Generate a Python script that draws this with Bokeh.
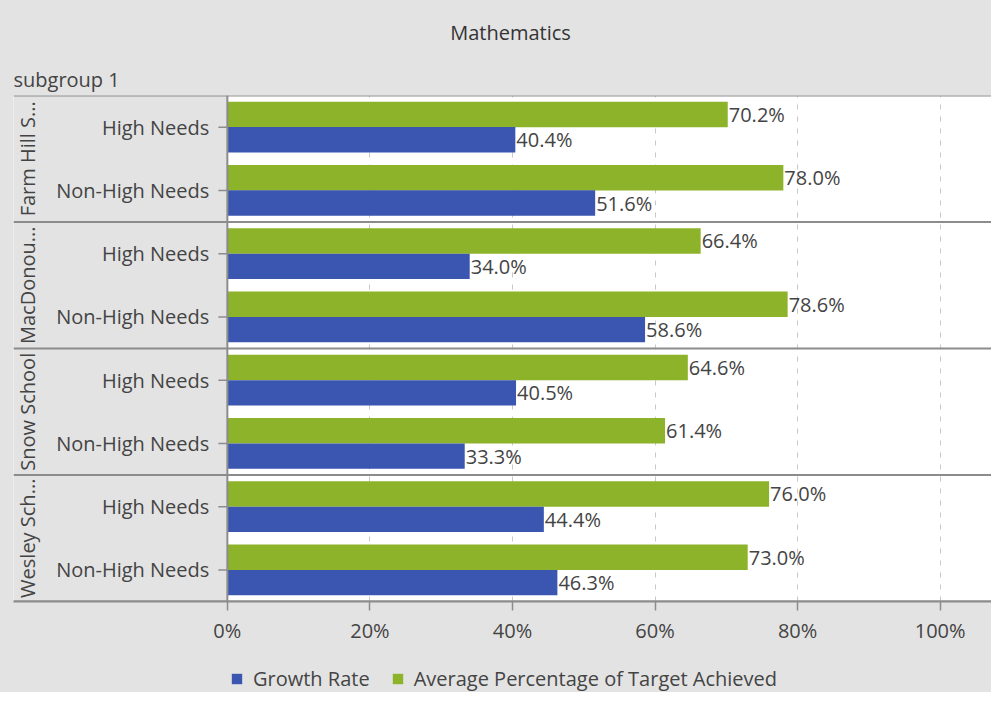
from bokeh.plotting import figure
from bokeh.layouts import column
from bokeh.models import (FactorRange, Range1d, Span, BoxAnnotation, Label, Legend, LegendItem,
                          FixedTicker, ColumnDataSource)
from bokeh.transform import dodge
from bokeh.core.properties import value
from bokeh.embed import file_html
from bokeh.resources import INLINE

# ---- data ----
title_text = "Mathematics"
facet_title = "subgroup 1"
schools = ["Farm Hill S...", "MacDonou...", "Snow School", "Wesley Sch..."]
subgroups = ["High Needs", "Non-High Needs"]
growth_rate = [40.4, 51.6, 34.0, 58.6, 40.5, 33.3, 44.4, 46.3]
avg_target = [70.2, 78.0, 66.4, 78.6, 64.6, 61.4, 76.0, 73.0]
series_names = ["Growth Rate", "Average Percentage of Target Achieved"]
x_ticks = [0, 20, 40, 60, 80, 100]
x_tick_labels = ["0%", "20%", "40%", "60%", "80%", "100%"]

# ---- style ----
FONT = "Open Sans"
GRAY_BG = "#e3e3e3"
BLUE = "#3a56b1"
GREEN = "#8db32a"
TEXT = "#444444"
LINE = "#8c8c8c"
X_MIN, X_MAX = -30.0, 107.2
W = 991


def strip(height):
    f = figure(width=W, height=height, output_backend="svg", toolbar_location=None,
               x_range=Range1d(0, 1), y_range=Range1d(0, 1), x_axis_location=None,
               y_axis_location=None, min_border=0)
    f.background_fill_color = GRAY_BG
    f.border_fill_color = GRAY_BG
    f.outline_line_color = None
    f.grid.grid_line_color = None
    return f


# ---- header: chart title and facet title ----
ph = strip(95)
ph.add_layout(Label(x=497, y=63, x_units="screen", y_units="screen", text=title_text,
                    text_align="center", text_baseline="middle", text_font=FONT,
                    text_font_size="20px", text_color="#333333"))
ph.add_layout(Label(x=0, y=16, x_units="screen", y_units="screen", text=facet_title,
                    text_align="left", text_baseline="middle", text_font=FONT,
                    text_font_size="20px", text_color=TEXT))

# ---- main chart ----
factors = [(s, g) for s in schools for g in subgroups]
src = ColumnDataSource(dict(
    y=factors,
    growth=growth_rate,
    target=avg_target,
    growth_lbl=[f"{v:.1f}%" for v in growth_rate],
    target_lbl=[f"{v:.1f}%" for v in avg_target],
    sub=[g for s in schools for g in subgroups],
))

p = figure(width=W, height=551, output_backend="svg", toolbar_location=None,
           y_range=FactorRange(*reversed(factors), factor_padding=0, group_padding=0, range_padding=0),
           x_range=Range1d(X_MIN, X_MAX), y_axis_location=None, title=None,
           min_border_left=13, min_border_right=0, min_border_top=0, min_border_bottom=43)
p.background_fill_color = "white"
p.border_fill_color = GRAY_BG
p.outline_line_color = None
p.ygrid.grid_line_color = None

# gray label area left of 0
p.add_layout(BoxAnnotation(right=0, fill_color=GRAY_BG, fill_alpha=1, line_color=None, level="underlay"))

# bars
r_green = p.hbar(y=dodge("y", 0.2, range=p.y_range), right="target", left=0, height=0.4,
                 source=src, fill_color=GREEN, line_color=None)
r_blue = p.hbar(y=dodge("y", -0.2, range=p.y_range), right="growth", left=0, height=0.4,
                source=src, fill_color=BLUE, line_color=None)

# value labels
p.text(x="target", y=dodge("y", 0.2, range=p.y_range), text="target_lbl", source=src,
       x_offset=1, text_align="left", text_baseline="middle", text_font=value(FONT),
       text_font_size="20px", text_color=TEXT)
p.text(x="growth", y=dodge("y", -0.2, range=p.y_range), text="growth_lbl", source=src,
       x_offset=1, text_align="left", text_baseline="middle", text_font=value(FONT),
       text_font_size="20px", text_color=TEXT)

# category labels and tick marks at the 0 line
p.text(x=0, y="y", text="sub", source=src, x_offset=-18, text_align="right",
       text_baseline="middle", text_font=value(FONT), text_font_size="20px", text_color=TEXT)
p.ray(x=0, y="y", length=9, length_units="screen", angle=3.14159265, source=src,
      line_color=LINE, line_width=1.5)

# school labels (rotated)
p.text(x=[X_MIN] * len(schools), y=schools, text=schools, angle=1.5707963, x_offset=14,
       text_align="center", text_baseline="middle", text_font=value(FONT),
       text_font_size="20px", text_color=TEXT)

# separators
for i in range(len(schools) + 1):
    p.add_layout(Span(location=i * len(subgroups), dimension="width", line_color=LINE, line_width=2))
p.add_layout(Span(location=0, dimension="height", line_color=LINE, line_width=2))

# x grid / axis
p.xgrid.ticker = FixedTicker(ticks=x_ticks)
p.xgrid.grid_line_color = "#c8c8c8"
p.xgrid.grid_line_dash = "5 7"
p.xgrid.grid_line_width = 1
p.xaxis.ticker = FixedTicker(ticks=x_ticks)
p.xaxis.major_label_overrides = {t: l for t, l in zip(x_ticks, x_tick_labels)}
p.xaxis.axis_line_color = LINE
p.xaxis.axis_line_width = 2
p.xaxis.major_tick_line_color = LINE
p.xaxis.major_tick_line_width = 1.5
p.xaxis.major_tick_out = 9
p.xaxis.major_tick_in = 0
p.xaxis.minor_tick_line_color = None
p.xaxis.major_label_standoff = 6
p.xaxis.major_label_text_font = FONT
p.xaxis.major_label_text_font_size = "20px"
p.xaxis.major_label_text_color = TEXT

# ---- legend strip below the chart (one proxy swatch per series, kept out of view) ----
pl = strip(46)
sw_blue = pl.hbar(y=[-5], right=[0], left=0, height=0.5, fill_color=BLUE, line_color=None)
sw_green = pl.hbar(y=[-5], right=[0], left=0, height=0.5, fill_color=GREEN, line_color=None)
legend = Legend(items=[LegendItem(label=series_names[0], renderers=[sw_blue]),
                       LegendItem(label=series_names[1], renderers=[sw_green])],
                orientation="horizontal", location=(217, 0), border_line_color=None,
                background_fill_alpha=0, label_text_font=FONT, label_text_font_size="20px",
                label_text_color=TEXT, glyph_width=13, glyph_height=13, label_standoff=10,
                spacing=21, padding=0, margin=0)
pl.add_layout(legend, "center")

layout = column(ph, p, pl, spacing=0, styles={"background-color": GRAY_BG})
open("out.html", "w").write(file_html(layout, INLINE))
